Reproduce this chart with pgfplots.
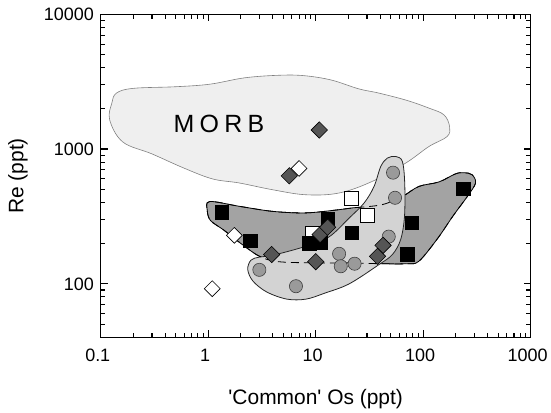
\documentclass[border=0pt]{standalone}
\usepackage{fontspec}
\setmainfont{Liberation Sans}
\usepackage{pgfplots}
\pgfplotsset{compat=1.18}
\definecolor{morbfill}{HTML}{EFEFEF}
\definecolor{darkfill}{HTML}{A3A3A3}
\definecolor{lightfill}{HTML}{D3D3D3}
\definecolor{circfill}{HTML}{9A9A9A}
\definecolor{diafill}{HTML}{555555}
\begin{document}
\begin{tikzpicture}
\begin{axis}[at={(0pt,0pt)}, anchor=south west, scale only axis,
  width=431pt, height=324pt,
  xmode=log, ymode=log, xmin=0.1, xmax=1000, ymin=40, ymax=10000,
  log ticks with fixed point,
  /pgf/number format/1000 sep={},
  /pgf/number format/assume math mode=true,
  major tick length=7pt, minor tick length=4.5pt,
  line width=1.2pt,
  axis on top,
  every tick/.style={black, line width=1.1pt},
  tick label style={font=\fontsize{18}{18}\selectfont},
  xticklabel style={yshift=-8pt, xshift=-3pt},
  yticklabel style={xshift=-3pt},
  xlabel={\textquotesingle Common\textquotesingle\ Os (ppt)},
  ylabel={Re (ppt)},
  label style={font=\fontsize{21}{21}\selectfont},
  xlabel style={at={(axis description cs:0.5,-0.1904)}, anchor=center},
  ylabel style={at={(axis description cs:-0.1926,0.5)}, anchor=center},
]
% MORB field
\addplot[fill=morbfill, draw=gray, line width=0.6pt, smooth cycle, tension=0.6] coordinates {
(0.121,1650)(0.127,2200)(0.14,2600)(0.2,2820)(0.5,2900)(1.04,3030)(2.2,3380)(4.67,3530)(7.9,3500)(14,3250)(25,2800)(38.8,2600)(70,2300)(113,2013)(156,1794)(176,1468)(167,1239)(113,1044)(68.7,787)(33.5,575)(16.5,472)(8.1,458)(3.97,499)(1.95,560)(1.1,600)(0.6,720)(0.3,920)(0.16,1130)};
% dark field
\addplot[fill=darkfill, draw=black, line width=0.8pt, smooth cycle, tension=0.55] coordinates {
(1.03,408)(0.98,350)(1.05,295)(1.4,250)(2.0,200)(3.0,160)(4.5,146)(10,143)(20,143)(40,141)(70,141)(91,147)(135,215)(190,320)(260,450)(307,560)(285,645)(240,668)(200,655)(140,570)(91,528)(64,445)(41,386)(22,366)(16.5,355)(8.1,336)(3.97,345)(1.95,376)};
% light field
\addplot[fill=lightfill, draw=black!85, line width=0.8pt, smooth cycle, tension=0.55] coordinates {
(2.33,128)(2.5,150)(3.0,158)(4.0,163)(8.1,190)(13.3,223)(20.5,308)(28.2,398)(34.9,528)(40.3,743)(46.4,857)(55.5,881)(64,809)(67.3,560)(67,317)(61.7,213)(51.7,165)(38.8,139)(20.5,100)(12,85)(8.1,77)(5.4,77)(3.5,87)(2.6,105)};
% hidden outline of dark field
\addplot[draw=black, line width=0.8pt, dash pattern=on 8pt off 5pt, smooth cycle, tension=0.55] coordinates {
(1.03,408)(0.98,350)(1.05,295)(1.4,250)(2.0,200)(3.0,160)(4.5,146)(10,143)(20,143)(40,141)(70,141)(91,147)(135,215)(190,320)(260,450)(307,560)(285,645)(240,668)(200,655)(140,570)(91,528)(64,445)(41,386)(22,366)(16.5,355)(8.1,336)(3.97,345)(1.95,376)};
% white squares
\addplot[only marks, mark=square*, mark size=6.8pt, mark options={fill=white, draw=black, line width=0.6pt}] coordinates {
(21.5,433)(30.3,321)(9.3,236)};
% black squares
\addplot[only marks, mark=square*, mark size=6.8pt, mark options={fill=black, draw=black, line width=0.6pt}] coordinates {
(1.34,339)(2.47,208)(8.7,200)(11.0,203)(12.9,303)(21.7,239)(78.5,283)(71.5,166)(235,506)};
% grey circles
\addplot[only marks, mark=*, mark size=6.6pt, mark options={fill=circfill, draw=black!75, line width=0.6pt}] coordinates {
(52.4,668)(54.7,435)(47.8,224)(16.5,167)(17.1,135)(23,141)(2.99,127)(6.55,96)};
% white diamonds
\addplot[only marks, mark=square*, mark size=5.6pt, mark options={rotate=45, fill=white, draw=black, line width=0.6pt}] coordinates {
(7.0,718)(1.75,229)(1.09,92)};
% dark diamonds
\addplot[only marks, mark=square*, mark size=5.8pt, mark options={rotate=45, fill=diafill, draw=black, line width=0.6pt}] coordinates {
(10.8,1384)(5.68,633)(3.89,165)(10.0,146)(11.0,232)(12.9,263)(42.3,193)(37.6,160)};
\node[font=\fontsize{25}{25}\selectfont] at (axis cs:1.26,1540) {M\hspace{5.3pt}O\hspace{5.3pt}R\hspace{5.3pt}B};
% tick marks on all four sides
\pgfplotsinvokeforeach{0.2,0.3,0.4,0.5,0.6,0.7,0.8,0.9,2,3,4,5,6,7,8,9,20,30,40,50,60,70,80,90,200,300,400,500,600,700,800,900}{
  \draw[black, line width=1pt] (axis cs:#1,40) -- ++(0pt,4.5pt);
  \draw[black, line width=1pt] (axis cs:#1,10000) -- ++(0pt,-4.5pt);
}
\pgfplotsinvokeforeach{1,10,100}{
  \draw[black, line width=1pt] (axis cs:#1,40) -- ++(0pt,7pt);
  \draw[black, line width=1pt] (axis cs:#1,10000) -- ++(0pt,-7pt);
}
\pgfplotsinvokeforeach{50,60,70,80,90,200,300,400,500,600,700,800,900,2000,3000,4000,5000,6000,7000,8000,9000}{
  \draw[black, line width=1pt] (axis cs:0.1,#1) -- ++(4.5pt,0pt);
  \draw[black, line width=1pt] (axis cs:1000,#1) -- ++(-4.5pt,0pt);
}
\pgfplotsinvokeforeach{100,1000}{
  \draw[black, line width=1pt] (axis cs:0.1,#1) -- ++(7pt,0pt);
  \draw[black, line width=1pt] (axis cs:1000,#1) -- ++(-7pt,0pt);
}
\end{axis}
\path (-101pt,-74.7pt) rectangle (450pt,338.3pt);
\end{tikzpicture}
\end{document}
